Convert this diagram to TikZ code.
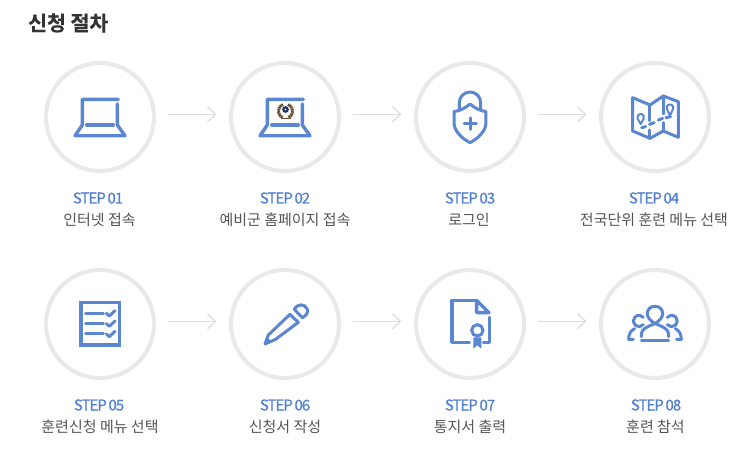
\documentclass[tikz,border=0pt]{standalone}
\usepackage{fontspec}
\setmainfont{Noto Sans CJK KR}
\newfontfamily\stepfont[FakeBold=0.2,LetterSpace=-6.5,WordSpace=0.7]{Noto Sans CJK KR}
\newfontfamily\titlefont[FakeBold=0.3]{Noto Sans CJK KR Bold}
\usetikzlibrary{arrows.meta}
\definecolor{iconblue}{HTML}{5B86D2}
\definecolor{stepblue}{HTML}{4F7FD0}
\definecolor{ringgray}{HTML}{E9E9E9}
\definecolor{conngray}{HTML}{DDDDDD}
\definecolor{desctext}{HTML}{555555}
\definecolor{titletext}{HTML}{333333}
\definecolor{laurel}{HTML}{6B4A32}
\definecolor{navydisc}{HTML}{1F3560}
\tikzset{
  x=1pt,y=-1pt,
  ring/.style={circle,draw=ringgray,line width=4pt,minimum size=108pt,inner sep=0pt,outer sep=0pt},
  conn/.style={draw=conngray,line width=1.2pt,-{Straight Barb[length=8pt,width=15pt,line width=1.3pt]}},
  steplabel/.style={text=stepblue,font={\stepfont\fontsize{15}{17}\selectfont},inner sep=0pt},
  desclabel/.style={text=desctext,font={\fontsize{15}{17}\selectfont},inner sep=0pt},
  icon/.style={draw=iconblue,line width=3.4pt,line join=round,line cap=round},
  iconthin/.style={icon,line width=3pt},
}
\newcommand{\laptopicon}{%
  \draw[icon] (118.3,99.3) -- (82.3,99.3) -- (82.3,125) -- (75,135.7) -- (125,135.7) -- (117.3,125) -- (117.3,104);
  \draw[icon] (86.7,125) -- (113.3,125);
}
\begin{document}
\begin{tikzpicture}
\useasboundingbox (0,0) rectangle (752,460);
\fill[white] (0,0) rectangle (752,460);
\node[anchor=west,inner sep=0pt,text=titletext,font={\titlefont\fontsize{20.5}{22}\selectfont}] (title) at (28,23) {신청 절차};

% rings
\foreach \n/\x/\y in {c1/100/117,c2/285/117,c3/470/117,c4/655/117,c5/100/324,c6/285/324,c7/470/324,c8/655/324}
  \node[ring] (\n) at (\x,\y) {};

% connectors
\coordinate (a1s) at (168,114.3); \coordinate (a1e) at (216.5,114.3);
\coordinate (a2s) at (353,114.3); \coordinate (a2e) at (401.5,114.3);
\coordinate (a3s) at (538,114.3); \coordinate (a3e) at (586.5,114.3);
\coordinate (a4s) at (168,321.3); \coordinate (a4e) at (216.5,321.3);
\coordinate (a5s) at (353,321.3); \coordinate (a5e) at (401.5,321.3);
\coordinate (a6s) at (538,321.3); \coordinate (a6e) at (586.5,321.3);
\foreach \k in {1,...,6} \draw[conn] (a\k s) -- (a\k e);

% labels
\node[steplabel] (s1) at (98,198) {STEP 01};
\node[desclabel] (d1) at (99.5,220) {인터넷 접속};
\node[steplabel] (s2) at (285,198) {STEP 02};
\node[desclabel] (d2) at (285,220) {예비군 홈페이지 접속};
\node[steplabel] (s3) at (470,198) {STEP 03};
\node[desclabel] (d3) at (469,220) {로그인};
\node[steplabel] (s4) at (654,198) {STEP 04};
\node[desclabel] (d4) at (654,220) {전국단위 훈련 메뉴 선택};
\node[steplabel] (s5) at (99,405) {STEP 05};
\node[desclabel] (d5) at (100,427) {훈련신청 메뉴 선택};
\node[steplabel] (s6) at (285,405) {STEP 06};
\node[desclabel] (d6) at (285,427) {신청서 작성};
\node[steplabel] (s7) at (470,405) {STEP 07};
\node[desclabel] (d7) at (470,427) {통지서 출력};
\node[steplabel] (s8) at (656,405) {STEP 08};
\node[desclabel] (d8) at (655.5,427) {훈련 참석};

% icon 1, 2 laptops
\laptopicon
\begin{scope}[xshift=185pt]\laptopicon\end{scope}
% emblem
\begin{scope}[shift={(285.5,111)}]
  \draw[laurel,line width=3pt,dash pattern=on 1.6pt off .5pt] (-3,6.5) arc[start angle=115,end angle=250,radius=7];
  \draw[laurel,line width=3pt,dash pattern=on 1.6pt off .5pt] (3,6.5) arc[start angle=65,end angle=-70,radius=7];
  \draw[laurel,line width=1.6pt] (-5,7.5) -- (5,7.5);
  \fill[navydisc] (0,-1.5) circle (3.4);
  \fill[white] (0,-1.5) circle (.8);
\end{scope}

% icon 3 lock
\begin{scope}[shift={(400,50)},x=.3333pt,y=-.3333pt]
  \draw[iconthin] (178,178) -- (178,158) arc[start angle=180,end angle=360,radius=32] -- (242,178);
  \draw[fill=white,iconthin] (210,162) .. controls (195,175) and (180,182) .. (162,185) -- (162,218) .. controls (162,245) and (190,268) .. (210,278) .. controls (230,268) and (258,245) .. (258,218) -- (258,185) .. controls (240,182) and (225,175) .. (210,162) -- cycle;
  \draw[icon] (193,221) -- (229,221) (211,204) -- (211,238);
\end{scope}

% icon 4 map
\begin{scope}[shift={(400,50)},x=.3333pt,y=-.3333pt]
  \draw[iconthin] (698,143) -- (750,165) -- (790,138) -- (835,155) -- (835,262) -- (790,243) -- (750,265) -- (698,243) -- cycle;
  \draw[iconthin] (750,165) -- (750,212) (750,240) -- (750,265);
  \draw[iconthin] (790,138) -- (790,192) (790,218) -- (790,243);
  \draw[iconthin,line width=2pt] (722,222) -- (713,206.2) arc[start angle=155,end angle=385,radius=10] -- cycle;
  \draw[iconthin,line width=2pt] (810,197) -- (801,177.2) arc[start angle=155,end angle=385,radius=10] -- cycle;
  \draw[iconthin] (725,233) -- (737,230) (748,223) -- (763,218) (775,210) -- (788,205) (798,203) -- (812,200);
\end{scope}

% icon 5 checklist
\begin{scope}[shift={(30,260)},x=.3333pt,y=-.3333pt]
  \draw[icon,line cap=butt,line join=miter] (153,128) rectangle (268,255);
  \foreach \yy in {160,191,222} {
    \draw[iconthin] (167,\yy) -- (220,\yy);
    \draw[iconthin] (229,\yy) -- (238,\yy+8) -- (255,\yy-8);
  }
\end{scope}

% icon 6 pencil
\begin{scope}[shift={(30,260)},x=.3333pt,y=-.3333pt]
  \draw[iconthin] (705,252) -- (715,225) -- (780,163) -- (805,187) -- (737,238) -- cycle;
  \fill[iconblue] (705,252) -- (711,232) -- (727,246) -- cycle;
  \draw[iconthin] (793,148) .. controls (803,130) and (825,130) .. (832,148) .. controls (835,158) and (828,168) .. (817,173) -- cycle;
\end{scope}

% icon 7 document
\begin{scope}[shift={(400,260)},x=.3333pt,y=-.3333pt]
  \draw[icon] (230,121) -- (156,121) -- (156,247) -- (208,247);
  \draw[icon] (250,247) -- (268,247) -- (268,172);
  \draw[icon] (230,121) -- (230,158) -- (267,158) -- cycle;
  \fill[iconblue] (220,232) -- (220,266) -- (232,256) -- (244,266) -- (244,232) -- cycle;
  \draw[iconblue,fill=white,line width=3pt] (232,211) circle (17);
\end{scope}

% icon 8 people
\begin{scope}[shift={(400,260)},x=.3333pt,y=-.3333pt]
  \draw[iconthin] (765,191) .. controls (750,181) and (742,172) .. (742,161) .. controls (742,147) and (752,139) .. (765,139) .. controls (778,139) and (788,147) .. (788,161) .. controls (788,172) and (780,181) .. (765,191) -- cycle;
  \draw[iconthin] (724,242) -- (806,242);
  \draw[iconthin] (806,230) -- (806,222) .. controls (805,208) and (790,200) .. (765,191);
  \draw[iconthin] (724,230) -- (724,222) .. controls (725,208) and (740,200) .. (765,191);
  \draw[iconthin] (717,183) ++(40:17) arc[start angle=40,end angle=320,radius=17];
  \draw[iconthin] (815,183) ++(140:17) arc[start angle=140,end angle=-140,radius=17];
  \draw[iconthin] (700,238) -- (686,238) .. controls (686,222) and (692,212) .. (704,206);
  \draw[iconthin] (830,238) -- (844,238) .. controls (844,222) and (838,212) .. (826,206);
\end{scope}
\end{tikzpicture}
\end{document}
